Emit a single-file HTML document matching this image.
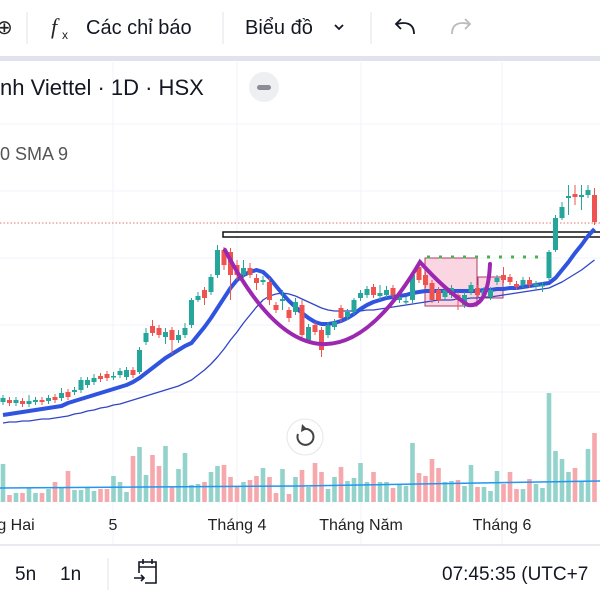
<!DOCTYPE html>
<html><head><meta charset="utf-8">
<style>
html,body{margin:0;padding:0;width:600px;height:600px;overflow:hidden;background:#fff;font-family:"Liberation Sans",sans-serif;}
svg{display:block}
</style></head>
<body>
<svg id="chart" width="600" height="600" viewBox="0 0 600 600">
  <!-- grid -->
  <g id="grid" stroke="#f0f3fa" stroke-width="1">
    <line x1="0" y1="124" x2="600" y2="124"/>
    <line x1="0" y1="191" x2="600" y2="191"/>
    <line x1="0" y1="258" x2="600" y2="258"/>
    <line x1="0" y1="325" x2="600" y2="325"/>
    <line x1="0" y1="392" x2="600" y2="392"/>
    <line x1="113" y1="62" x2="113" y2="545"/>
    <line x1="237" y1="62" x2="237" y2="545"/>
    <line x1="361" y1="62" x2="361" y2="545"/>
    <line x1="502" y1="62" x2="502" y2="545"/>
  </g>
  <g id="vol"></g>
  <polyline points="0,488 300,486 600,481" fill="none" stroke="#2196f3" stroke-width="1.5"/>
  <line x1="0" y1="223" x2="600" y2="223" stroke="#e57373" stroke-width="1" stroke-dasharray="1.5 2"/>
  <g><rect x="425" y="258" width="52" height="48" fill="rgba(240,120,160,0.3)" stroke="#b03a6a" stroke-width="1"/></g>
  <g><rect x="478" y="277" width="25" height="21" fill="rgba(240,120,160,0.3)" stroke="#b03a6a" stroke-width="1"/></g>
  <line x1="427" y1="257" x2="555" y2="257" stroke="#4caf50" stroke-width="3" stroke-dasharray="3 9"/>
  <g>
    <rect x="223" y="232" width="380" height="5" fill="#fff" stroke="#111" stroke-width="1.5"/>
  </g>
  <g id="ma"></g>
  <g id="candles"></g>
  <path d="M225,250 Q320,432 420,262 Q445,290 468,305 Q488,308 490,264" fill="none" stroke="#9c27b0" stroke-width="4" stroke-linecap="round"/>

  <!-- reset button -->
  <g>
    <circle cx="305" cy="437" r="18" fill="#fff" stroke="#e6e6e6"/>
    <path d="M298,434 A8,8 0 1 0 304,429" fill="none" stroke="#444" stroke-width="2"/>
    <path d="M302,424 L307,429 L301,432 Z" fill="#444"/>
  </g>

  <!-- time axis -->
  <g font-size="16" fill="#222" text-anchor="middle">
    <text x="16" y="530">g Hai</text>
    <text x="113" y="530">5</text>
    <text x="237" y="530">Tháng 4</text>
    <text x="361" y="530">Tháng Năm</text>
    <text x="502" y="530">Tháng 6</text>
  </g>
  <line x1="0" y1="545" x2="600" y2="545" stroke="#e0e3eb" stroke-width="1.5"/>

  <!-- top toolbar -->
  <rect x="0" y="0" width="600" height="56" fill="#fff"/>
  <rect x="0" y="56" width="600" height="5" fill="#e0e3eb"/>
  <text x="-4" y="34" font-size="20" fill="#222">⊕</text>
  <line x1="27" y1="12" x2="27" y2="44" stroke="#e0e3eb"/>
  <g>
    <text x="51" y="34" font-size="22" font-family="Liberation Serif,serif" font-style="italic" fill="#222">f</text>
    <text x="62" y="39" font-size="12" fill="#222">x</text>
    <text x="86" y="34" font-size="20" fill="#131722">Các chỉ báo</text>
  </g>
  <line x1="223" y1="12" x2="223" y2="44" stroke="#e0e3eb"/>
  <g>
    <text x="245" y="34" font-size="20" fill="#131722">Biểu đồ</text>
    <path d="M335,25 L339,29 L343,25" fill="none" stroke="#131722" stroke-width="1.8"/>
  </g>
  <line x1="371" y1="12" x2="371" y2="44" stroke="#e0e3eb"/>
  <g>
    <path d="M414,34 C414,22 404,22 397,24" fill="none" stroke="#131722" stroke-width="1.8"/>
    <path d="M401,19 L396,24 L401,29" fill="none" stroke="#131722" stroke-width="1.8"/>
  </g>
  <g>
    <path d="M452,34 C452,22 462,22 469,24" fill="none" stroke="#bbb" stroke-width="1.8"/>
    <path d="M465,19 L470,24 L465,29" fill="none" stroke="#bbb" stroke-width="1.8"/>
  </g>

  <!-- legend -->
  <text x="0" y="95" font-size="22" fill="#131722">nh Viettel · 1D · HSX</text>
  <g>
    <circle cx="264" cy="87" r="15" fill="#eeeff2"/>
    <rect x="257" y="85" width="14" height="5" rx="2.5" fill="#8a8d96"/>
  </g>
  <text x="0" y="160" font-size="18" fill="#555">0 SMA 9</text>

  <!-- bottom bar -->
  <text x="15" y="580" font-size="19" fill="#131722">5n</text>
  <text x="60" y="580" font-size="19" fill="#131722">1n</text>
  <line x1="108" y1="558" x2="108" y2="590" stroke="#e0e3eb"/>
  <g fill="none" stroke="#131722" stroke-width="1.6">
    <path d="M139,573 V562 H156 V583 H145"/>
    <line x1="139" y1="567" x2="156" y2="567"/>
    <line x1="143" y1="559" x2="143" y2="564"/><line x1="152" y1="559" x2="152" y2="564"/>
    <path d="M134,578 H144 M141,575 L144,578 L141,581"/>
  </g>
  <text x="442" y="580" font-size="19" fill="#131722">07:45:35 (UTC+7</text>
</svg>
<script>
const opens=[48,50,47,49,46,48,50,49,53,52,58,58,60,65,68,74,76,73,75,73,80,78,108,124,122,113,120,110,115,125,150,160,158,175,200,198,185,175,182,172,168,168,145,149,140,138,145,110,125,120,115,123,142,133,138,152,155,163,154,155,162,150,148,150,183,175,167,160,153,155,155,145,158,162,155,153,168,175,173,166,165,170,164,164,172,200,232,252,256,253,255,255];
const closes=[52,47,50,46,49,50,48,52,50,57,53,60,70,70,72,71,72,74,79,80,75,100,117,117,115,118,110,115,122,150,154,152,173,200,185,175,175,182,175,167,170,150,140,151,132,148,115,123,118,100,125,128,132,138,150,157,161,155,157,160,155,153,149,175,170,165,150,150,160,162,150,155,165,155,160,160,172,170,168,163,170,165,166,165,198,232,243,254,253,255,260,228];
const highs=[55,53,53,52,55,53,53,55,56,62,61,63,73,73,76,77,79,78,82,83,83,103,122,130,125,122,123,120,127,152,158,163,176,205,203,202,190,190,187,176,174,172,148,160,143,152,150,126,128,123,128,131,145,141,152,160,164,166,165,164,165,156,153,178,187,178,170,163,163,165,158,158,168,165,163,163,175,183,176,169,173,173,169,168,200,235,248,265,265,265,265,262];
const lows=[45,44,44,43,43,45,45,46,47,49,50,55,57,62,65,68,69,70,72,70,72,76,105,114,112,106,96,107,112,122,148,145,155,172,180,150,170,172,172,160,165,145,137,140,128,135,112,107,115,93,112,120,128,130,135,149,152,152,150,152,152,147,145,147,167,162,147,147,150,152,140,142,155,152,152,150,165,167,165,160,162,162,160,158,170,198,230,235,245,240,252,225];
const sma9=[35,36,37,38,39,40,41,42,43,44,47,49,51,53,55,57,59,61,63,65,68,72,77,82,87,92,96,100,104,107,115,123,132,142,152,162,170,175,178,180,178,172,164,156,149,143,137,132,128,126,126,127,129,132,136,141,145,148,150,152,153,154,155,157,158,159,159,159,159,159,159,159,159,159,160,160,161,161,162,162,163,164,165,166,167,172,180,188,197,205,214,221];
const sma20=[27,28,28,29,29,30,31,31,32,33,34,36,37,39,40,42,43,45,46,48,50,52,54,56,58,60,62,64,67,70,75,80,86,93,101,110,118,127,135,143,150,154,156,157,156,154,151,148,145,142,140,139,139,139,139,139,140,140,141,142,143,144,145,146,147,148,149,150,150,150,151,151,152,152,153,153,154,155,156,157,158,159,160,161,162,165,168,172,176,180,185,190];
const volumes=[38,7,9,9,14,9,9,13,20,15,31,12,12,15,11,13,13,26,20,10,46,55,27,47,36,56,15,33,49,17,18,20,30,36,37,25,15,20,22,26,34,25,9,33,8,25,32,15,39,30,13,25,35,21,24,39,20,30,20,20,14,18,16,59,29,26,43,34,20,21,22,16,37,15,15,11,31,18,30,13,13,23,18,14,109,51,43,30,34,21,53,69];

const NS='http://www.w3.org/2000/svg';
const xOf=i=>3+i*6.5;
const yOf=p=>450-p;
const vBase=502;
const vY=v=>vBase-v;
const G='#26a69a',R='#ef5350';
const cg=document.getElementById('candles');
const vg=document.getElementById('vol');
for(let i=0;i<opens.length;i++){
  const up=closes[i]>=opens[i];
  const col=up?G:R;
  const x=xOf(i);
  const vb=document.createElementNS(NS,'rect');
  
  
  vb.setAttribute('x',x-2.3);vb.setAttribute('width',4.6);
  vb.setAttribute('y',vY(volumes[i]));vb.setAttribute('height',vBase-vY(volumes[i]));
  vb.setAttribute('fill',up?'#94d3cc':'#f7a8ac');
  vg.appendChild(vb);
  const w=document.createElementNS(NS,'line');
  
  
  w.setAttribute('x1',x);w.setAttribute('x2',x);
  w.setAttribute('y1',yOf(highs[i]));w.setAttribute('y2',yOf(lows[i]));
  w.setAttribute('stroke',col);w.setAttribute('stroke-width',1);
  cg.appendChild(w);
  const b=document.createElementNS(NS,'rect');
  
  
  const top=yOf(Math.max(opens[i],closes[i]));
  const h=Math.max(1.5,Math.abs(opens[i]-closes[i]));
  b.setAttribute('x',x-2.5);b.setAttribute('width',5);
  b.setAttribute('y',top);b.setAttribute('height',h);
  b.setAttribute('fill',col);
  cg.appendChild(b);
}
const mg=document.getElementById('ma');
function line(arr,color,width,name){
  const pl=document.createElementNS(NS,'polyline');
  
  
  pl.setAttribute('points',arr.map((v,i)=>xOf(i)+','+yOf(v)).join(' '));
  pl.setAttribute('fill','none');pl.setAttribute('stroke',color);
  pl.setAttribute('stroke-width',width);pl.setAttribute('stroke-linejoin','round');
  mg.appendChild(pl);
}
line(sma20,'#3045c8',1.3,'sma-20-line');
line(sma9,'#2f54e0',4,'sma-9-line');
</script>
</body></html>
